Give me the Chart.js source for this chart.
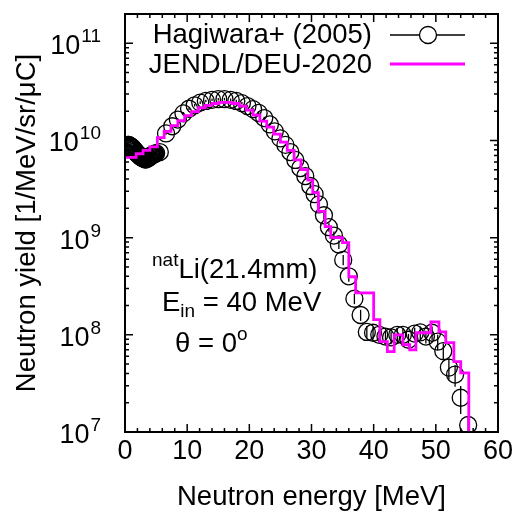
<!DOCTYPE html>
<html><head><meta charset="utf-8">
<script src="https://cdn.jsdelivr.net/npm/chart.js@4.4.0/dist/chart.umd.min.js"></script>
<style>html,body{margin:0;padding:0;background:#fff}#wrap{width:520px;height:516px}</style>
</head><body><div id="wrap"><canvas id="c" width="520" height="516"></canvas></div>
<script>
// ---- data ----
const expEnergy = [0.1,0.2,0.3,0.4,0.5,0.6,0.7,0.8,0.9,1.0,1.1,1.2,1.3,1.4,1.5,1.6,1.7,1.8,1.9,2.0,
  2.1,2.2,2.3,2.4,2.5,2.6,2.7,2.8,2.9,3.0,3.1,3.2,3.3,3.4,3.5,3.6,3.7,3.8,3.9,4.0,
  4.1,4.2,4.3,4.4,4.5,4.6,4.7,4.8,4.9,5.0,
  5.6,6.6,7.6,8.5,9.4,10.3,11.2,12.1,13.0,14.0,15.0,16.0,17.0,17.9,18.8,19.7,20.6,21.5,
  22.4,23.3,24.1,25.0,25.8,26.6,27.4,28.2,29.0,29.8,30.5,31.2,32.0,32.8,33.6,34.4,35.1,
  36.0,36.9,37.9,38.9,39.9,40.9,41.9,42.8,43.8,44.7,45.6,46.6,47.5,48.4,49.4,50.3,51.2,
  52.1,53.1,54.0,55.2];
const expYield = [8.5e9,8.6e9,8.8e9,8.9e9,9.0e9,9.0e9,8.9e9,8.8e9,8.7e9,8.6e9,8.5e9,8.4e9,8.2e9,8.1e9,8.0e9,7.8e9,7.7e9,7.5e9,7.4e9,7.3e9,
  7.2e9,7.1e9,7.0e9,6.9e9,6.8e9,6.7e9,6.7e9,6.6e9,6.6e9,6.5e9,6.5e9,6.4e9,6.4e9,6.4e9,6.5e9,6.5e9,6.6e9,6.6e9,6.7e9,6.8e9,
  6.9e9,7.0e9,7.0e9,7.1e9,7.1e9,7.2e9,7.2e9,7.3e9,7.3e9,7.4e9,
  7.6e9,1.18e10,1.4e10,1.64e10,1.9e10,2.12e10,2.3e10,2.45e10,2.55e10,2.62e10,2.66e10,2.66e10,2.62e10,2.55e10,2.42e10,2.26e10,2.1e10,1.92e10,
  1.7e10,1.46e10,1.24e10,1.05e10,9.0e9,7.6e9,6.3e9,5.2e9,4.3e9,3.4e9,2.8e9,2.2e9,1.7e9,1.28e9,1.05e9,8.5e8,5.9e8,
  4.0e8,2.35e8,1.6e8,1.07e8,1.05e8,1.0e8,9.6e7,9.4e7,1.0e8,1.0e8,8.9e7,1.03e8,1.06e8,9.6e7,1.05e8,8.5e7,6.8e7,
  4.6e7,3.9e7,2.25e7,1.18e7];
const expRelErr = [0.03,0.03,0.03,0.03,0.03,0.03,0.03,0.03,0.03,0.03,0.03,0.03,0.03,0.03,0.03,0.03,0.03,0.03,0.03,0.03,
  0.03,0.03,0.03,0.03,0.03,0.03,0.03,0.03,0.03,0.03,0.03,0.03,0.03,0.03,0.03,0.03,0.03,0.03,0.03,0.03,
  0.03,0.03,0.03,0.03,0.03,0.03,0.03,0.03,0.03,0.03,
  0.03,0.03,0.03,0.03,0.03,0.03,0.03,0.03,0.03,0.03,0.03,0.03,0.03,0.03,0.03,0.03,0.03,0.03,
  0.03,0.03,0.03,0.03,0.03,0.04,0.04,0.06,0.06,0.06,0.08,0.1,0.1,0.1,0.1,0.1,0.12,
  0.12,0.12,0.13,0.15,0.15,0.15,0.15,0.15,0.15,0.15,0.15,0.15,0.15,0.15,0.16,0.18,0.2,
  0.25,0.25,0.32,0.2];
const jendlEdges = [0,1.8,2.9,4.0,5.2,6.3,7.4,8.5,9.6,10.7,11.8,12.9,14.0,15.1,16.2,17.3,18.4,19.5,20.6,21.7,
  22.8,23.9,25.0,26.1,27.2,28.3,29.4,30.2,31.1,32.2,33.1,35.0,36.0,37.1,40.0,41.0,42.2,43.3,44.7,45.8,
  46.8,49.2,50.5,51.6,52.9,54.0,55.3];
const jendlYield = [6.7e9,7.3e9,7.9e9,8.6e9,1.07e10,1.24e10,1.42e10,1.6e10,1.8e10,1.98e10,2.17e10,2.3e10,2.4e10,2.46e10,2.46e10,2.4e10,2.25e10,2.05e10,1.82e10,1.58e10,
  1.37e10,1.16e10,9.6e9,7.9e9,6.3e9,5.0e9,3.9e9,2.9e9,1.86e9,1.3e9,1.0e9,8.9e8,3.96e8,2.7e8,1.43e8,8.5e7,6.7e7,1.0e8,7.9e7,7.0e7,
  1.05e8,1.36e8,1.07e8,8.3e7,5.3e7,4.06e7,5e6];
const xTickLabels = [0,10,20,30,40,50,60];
const yDecades = [7,8,9,10,11];
const seriesNames = ['Hagiwara+ (2005)','JENDL/DEU-2020'];

const F = '"Liberation Sans", Arial, Helvetica, sans-serif';
const FS = 27.5;

const decor = {
  id: 'decor',
  beforeDatasetsDraw(chart) {
    const {ctx, scales:{x,y}, chartArea:a} = chart;
    ctx.save();
    ctx.beginPath(); ctx.rect(a.left,a.top,a.right-a.left,a.bottom-a.top); ctx.clip();
    ctx.strokeStyle='#000'; ctx.lineWidth=1.3;
    expEnergy.forEach((e,i)=>{
      const v=expYield[i], r=expRelErr[i], px=x.getPixelForValue(e);
      ctx.beginPath();
      ctx.moveTo(px, y.getPixelForValue(v*(1-r)));
      ctx.lineTo(px, y.getPixelForValue(v*(1+r)));
      ctx.stroke();
    });
    ctx.restore();
  },
  afterDraw(chart) {
    const {ctx, scales:{x,y}, chartArea:a} = chart;
    ctx.save();
    ctx.strokeStyle='#000'; ctx.fillStyle='#000';
    ctx.lineWidth=1.5;
    const tick=(px,len,vert)=>{
      ctx.beginPath();
      if(vert){ctx.moveTo(px,a.bottom);ctx.lineTo(px,a.bottom-len);ctx.moveTo(px,a.top);ctx.lineTo(px,a.top+len);}
      else{ctx.moveTo(a.left,px);ctx.lineTo(a.left+len,px);ctx.moveTo(a.right,px);ctx.lineTo(a.right-len,px);}
      ctx.stroke();
    };
    for(let v=0; v<=60; v+=2){ tick(x.getPixelForValue(v), v%10===0?8:4, true); }
    yDecades.forEach(k=>{
      tick(y.getPixelForValue(Math.pow(10,k)),8,false);
      for(let m=2;m<=9;m++){ const val=m*Math.pow(10,k); if(val<=2e11) tick(y.getPixelForValue(val),4,false); }
    });
    ctx.lineWidth=2;
    ctx.strokeRect(a.left,a.top,a.right-a.left,a.bottom-a.top);
    // y tick labels 10^k
    ctx.textAlign='right'; ctx.textBaseline='alphabetic';
    yDecades.forEach(k=>{
      const py=y.getPixelForValue(Math.pow(10,k));
      const ex=String(k);
      ctx.font=`19px ${F}`;
      const ew=ctx.measureText(ex).width;
      ctx.fillText(ex,101,py-1);
      ctx.font=`27px ${F}`;
      ctx.fillText('10',101-ew-1,py+11);
    });
    // legend
    ctx.font=`${FS}px ${F}`; ctx.textAlign='right'; ctx.textBaseline='middle';
    ctx.fillText(seriesNames[0],372,35);
    ctx.fillText(seriesNames[1],372,65);
    ctx.lineWidth=1.3; ctx.strokeStyle='#000';
    ctx.beginPath(); ctx.moveTo(390,35); ctx.lineTo(465,35); ctx.stroke();
    ctx.fillStyle='#fff'; ctx.beginPath(); ctx.arc(428,35,8.5,0,Math.PI*2); ctx.fill(); ctx.stroke();
    ctx.fillStyle='#000';
    ctx.strokeStyle='#ff00ff'; ctx.lineWidth=3;
    ctx.beginPath(); ctx.moveTo(390,64); ctx.lineTo(465,64); ctx.stroke();
    // annotations
    ctx.textAlign='left'; ctx.textBaseline='alphabetic';
    const run=(parts,x0,base)=>{
      let cx=x0;
      parts.forEach(p=>{
        ctx.font=`${p.s}px ${F}`;
        ctx.fillText(p.t,cx,base+(p.dy||0));
        cx+=ctx.measureText(p.t).width;
      });
    };
    run([{t:'nat',s:19,dy:-12},{t:'Li(21.4mm)',s:FS}],152,278);
    run([{t:'E',s:FS},{t:'in',s:19,dy:6},{t:' = 40 MeV',s:FS}],162,311);
    run([{t:'θ = 0',s:FS},{t:'o',s:19,dy:-12}],175,352);
    ctx.restore();
  }
};

new Chart(document.getElementById('c'), {
  data: {
    datasets: [
      {
        type:'scatter', label: seriesNames[0],
        data: expEnergy.map((e,i)=>({x:e,y:expYield[i]})),
        pointStyle:'circle', pointRadius:8.5, pointBorderWidth:1.3,
        pointBorderColor:'#000', pointBackgroundColor:'rgba(0,0,0,0)', showLine:false, order:1, clip:0
      },
      {
        type:'line', label: seriesNames[1],
        data: jendlEdges.map((e,i)=>({x:e,y:jendlYield[i]})),
        stepped:'before', borderColor:'#ff00ff', borderWidth:2.8, pointRadius:0, fill:false, order:0
      }
    ]
  },
  options: {
    responsive:false, animation:false, devicePixelRatio:1,
    layout:{padding:{top:14,right:22,left:0,bottom:0}},
    plugins:{legend:{display:false}, tooltip:{enabled:false}},
    scales:{
      x:{type:'linear',min:0,max:60,
        ticks:{stepSize:10,color:'#000',font:{family:F,size:27},padding:3,maxRotation:0},
        grid:{display:false,drawTicks:false}, border:{display:false},
        title:{display:true,text:'Neutron energy [MeV]',color:'#000',font:{family:F,size:FS},padding:{top:0,bottom:2}},
        afterFit(s){s.height=84;}
      },
      y:{type:'logarithmic',min:1e7,max:2e11,
        ticks:{display:false},
        grid:{display:false,drawTicks:false}, border:{display:false},
        title:{display:true,text:'Neutron yield [1/MeV/sr/μC]',color:'#000',font:{family:F,size:FS},padding:{top:11,bottom:0}},
        afterFit(s){s.width=125;}
      }
    }
  },
  plugins:[decor]
});
</script></body></html>
